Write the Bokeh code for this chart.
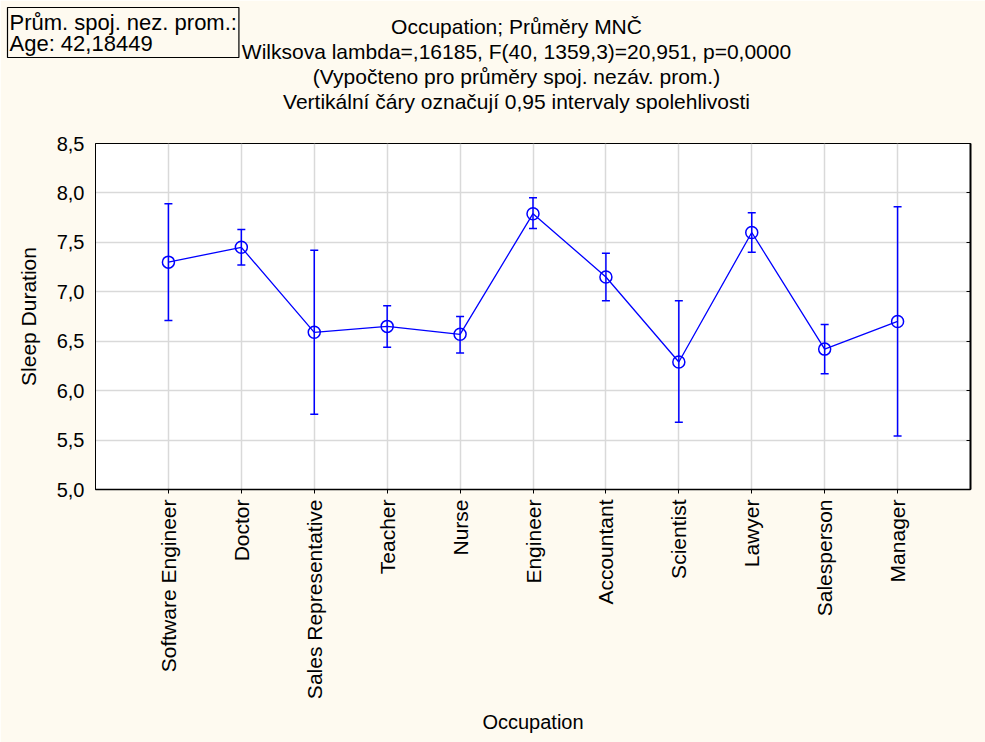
import math
from bokeh.plotting import figure
from bokeh.models import (ColumnDataSource, Whisker, TeeHead, Label, LinearAxis,
                          FixedTicker, Range1d, CustomJSTickFormatter)
from bokeh.embed import file_html
from bokeh.resources import INLINE

# ---------------- data ----------------
occupations = ["Software Engineer", "Doctor", "Sales Representative", "Teacher", "Nurse",
               "Engineer", "Accountant", "Scientist", "Lawyer", "Salesperson", "Manager"]
means = [7.30, 7.45, 6.59, 6.65, 6.57, 7.79, 7.15, 6.29, 7.60, 6.42, 6.70]
upper = [7.89, 7.63, 7.42, 6.86, 6.75, 7.95, 7.39, 6.91, 7.80, 6.67, 7.86]
lower = [6.71, 7.27, 5.76, 6.44, 6.38, 7.64, 6.91, 5.68, 7.40, 6.17, 5.54]
y_ticks = [5.0, 5.5, 6.0, 6.5, 7.0, 7.5, 8.0, 8.5]
y_tick_labels = ["5,0", "5,5", "6,0", "6,5", "7,0", "7,5", "8,0", "8,5"]
title_lines = ["Occupation; Průměry MNČ",
               "Wilksova lambda=,16185, F(40, 1359,3)=20,951, p=0,0000",
               "(Vypočteno pro průměry spoj. nezáv. prom.)",
               "Vertikální čáry označují 0,95 intervaly spolehlivosti"]
info_lines = ["Prům. spoj. nez. prom.:", "Age: 42,18449"]
x_label = "Occupation"
y_label = "Sleep Duration"

# ---------------- layout constants ----------------
W, H = 985, 742
FL, FR, FT, FB = 95, 970, 143, 489   # frame edges in canvas px
FONT = "Liberation Sans"
CREAM = "#FEFAF0"
BLUE = "#0000FF"
TITLE_PX = 21
TITLE_CX = 516
TITLE_CY = [26, 51, 76, 101]      # canvas y of title line centres
ROW_H = 23                         # height of one title Label row in the "above" panel

xs = list(range(1, len(occupations) + 1))
src = ColumnDataSource(dict(x=xs, mean=means, upper=upper, lower=lower))

p = figure(width=W, height=H, output_backend="svg", toolbar_location=None,
           x_range=Range1d(0, len(occupations) + 1), y_range=Range1d(y_ticks[0], y_ticks[-1]),
           min_border_left=FL, min_border_right=W - FR, min_border_top=FT,
           min_border_bottom=H - FB)
p.background_fill_color = "white"
p.border_fill_color = CREAM
p.outline_line_color = "black"
p.outline_line_width = 1

# grids
p.xgrid.grid_line_color = "#D9D9D9"
p.ygrid.grid_line_color = "#D9D9D9"
p.xgrid.grid_line_width = 1.5
p.ygrid.grid_line_width = 1.5

# x axis
xa = p.xaxis[0]
xa.ticker = FixedTicker(ticks=xs)
xa.major_label_overrides = {x: n for x, n in zip(xs, occupations)}
xa.major_label_orientation = math.pi / 2
xa.major_label_text_font = FONT
xa.major_label_text_font_size = "21px"
xa.major_label_text_color = "black"
xa.major_label_standoff = 6
xa.major_tick_out = 4
xa.major_tick_in = 0
xa.minor_tick_line_color = None
xa.axis_line_color = "black"
xa.axis_line_width = 1.5
xa.axis_label = x_label
xa.axis_label_text_font = FONT
xa.axis_label_text_font_size = "20px"
xa.axis_label_text_font_style = "normal"
xa.axis_label_text_color = "black"
xa.axis_label_standoff = 9

# y axis
ya = p.yaxis[0]
ya.ticker = FixedTicker(ticks=y_ticks)
ya.major_label_overrides = {t: l for t, l in zip(y_ticks, y_tick_labels)}
ya.major_label_text_font = FONT
ya.major_label_text_font_size = "20px"
ya.major_label_text_color = "black"
ya.major_label_standoff = 11
ya.major_tick_out = 0
ya.major_tick_in = 0
ya.minor_tick_line_color = None
ya.axis_line_color = "black"
ya.axis_label = y_label
ya.axis_label_text_font = FONT
ya.axis_label_text_font_size = "21px"
ya.axis_label_text_font_style = "normal"
ya.axis_label_text_color = "black"
ya.axis_label_standoff = 14

# right axis with inward ticks, no labels
ra = LinearAxis(ticker=FixedTicker(ticks=y_ticks),
                formatter=CustomJSTickFormatter(code="return ''"),
                major_tick_in=4, major_tick_out=0, minor_tick_line_color=None,
                axis_line_color="black", axis_line_width=2, major_label_standoff=0)
p.add_layout(ra, "right")

# data marks
p.add_layout(Whisker(base="x", upper="upper", lower="lower", source=src,
                     line_color=BLUE, line_width=1.5, level="glyph",
                     upper_head=TeeHead(size=8, line_color=BLUE, line_width=1.5),
                     lower_head=TeeHead(size=8, line_color=BLUE, line_width=1.5)))
p.line("x", "mean", source=src, line_color=BLUE, line_width=1.3)
p.scatter("x", "mean", source=src, marker="circle", size=12, fill_color=None,
          line_color=BLUE, line_width=1.5)

# title lines: Labels in the "above" side panel (rows stack upward from the frame)
rows = list(reversed(list(zip(title_lines, TITLE_CY))))
for i, (txt, cy) in enumerate(rows):
    row_bottom = FT - i * ROW_H
    p.add_layout(Label(x=TITLE_CX - FL, y=row_bottom - cy, x_units="screen", y_units="screen",
                       text=txt, text_align="center", text_baseline="middle",
                       text_font=FONT, text_font_size=f"{TITLE_PX}px", text_color="black"),
                 "above")

# info box (outermost row), drawn over the start of the second title line
info_bottom = FT - len(title_lines) * ROW_H
p.add_layout(Label(x=7 - FL, y=info_bottom - 7, x_units="screen", y_units="screen",
                   text="\n".join(info_lines), text_align="left", text_baseline="top",
                   text_font=FONT, text_font_size="22px", text_color="black",
                   text_line_height=0.84,
                   background_fill_color=CREAM, border_line_color="black",
                   border_line_width=1.2, padding=2), "above")

open("out.html", "w").write(file_html(p, INLINE))
